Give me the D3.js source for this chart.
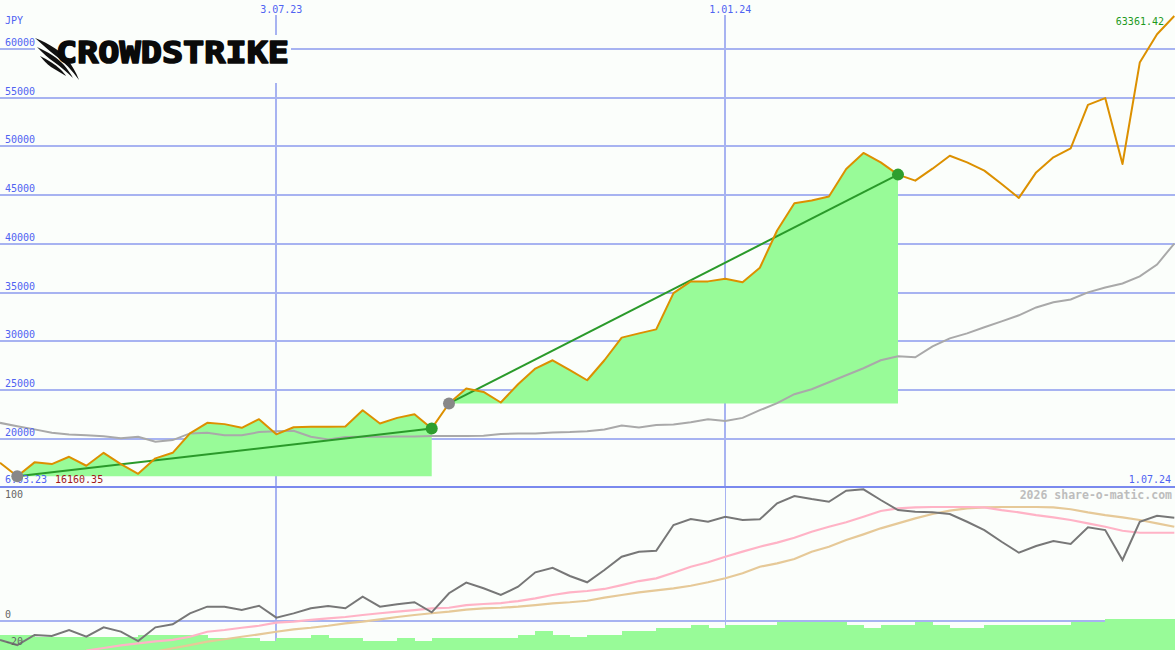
<!DOCTYPE html>
<html><head><meta charset="utf-8">
<script src="https://cdn.jsdelivr.net/npm/d3@7"></script>
<style>
html,body{margin:0;padding:0;background:#fbfefb;}
svg{display:block;}
text{font-family:"DejaVu Sans Mono","Liberation Mono",monospace;}
</style></head>
<body>
<svg id="chart" width="1175" height="650"></svg>
<script>
// ---------- DATA ----------
const dates = ["2023-03-13","2023-03-20","2023-03-27","2023-04-03","2023-04-10","2023-04-17","2023-04-24","2023-05-01","2023-05-08","2023-05-15","2023-05-22","2023-05-29","2023-06-05","2023-06-12","2023-06-19","2023-06-26","2023-07-03","2023-07-10","2023-07-17","2023-07-24","2023-07-31","2023-08-07","2023-08-14","2023-08-21","2023-08-28","2023-09-04","2023-09-11","2023-09-18","2023-09-25","2023-10-02","2023-10-09","2023-10-16","2023-10-23","2023-10-30","2023-11-06","2023-11-13","2023-11-20","2023-11-27","2023-12-04","2023-12-11","2023-12-18","2023-12-25","2024-01-01","2024-01-08","2024-01-15","2024-01-22","2024-01-29","2024-02-05","2024-02-12","2024-02-19","2024-02-26","2024-03-04","2024-03-11","2024-03-18","2024-03-25","2024-04-01","2024-04-08","2024-04-15","2024-04-22","2024-04-29","2024-05-06","2024-05-13","2024-05-20","2024-05-27","2024-06-03","2024-06-10","2024-06-17","2024-06-24","2024-07-01"];

const price = [17540,16160.35,17580,17400,18150,17230,18560,17400,16410,17990,18560,20550,21630,21500,21120,22010,20450,21180,21230,21240,21260,22930,21570,22140,22520,21060,23620,25150,24800,23720,25590,27200,28050,27030,26000,28050,30370,30810,31220,34940,36140,36140,36410,36060,37540,41360,44150,44430,44840,47670,49310,48350,47090,46470,47700,49030,48350,47500,46130,44700,47320,48860,49780,54250,54940,48180,58580,61490,63361.42];

const movingAvg = [21630,21290,20960,20610,20440,20350,20250,20040,20200,19690,19860,20550,20610,20370,20370,20680,20780,20810,20200,19930,20170,20200,20200,20220,20240,20270,20270,20270,20320,20480,20550,20550,20630,20680,20780,20940,21350,21160,21400,21450,21700,22010,21810,22140,22930,23650,24570,25080,25800,26510,27230,28050,28460,28360,29480,30300,30810,31430,32040,32660,33470,33990,34290,35010,35520,35930,36650,37870,40020];

const oscillator = [-14.0,-17.8,-10.3,-11.1,-6.6,-11.6,-4.6,-7.8,-14.8,-4.6,-2.3,5.8,10.8,10.8,8.3,11.5,2.6,5.8,9.6,11.3,9.6,18.2,10.8,12.6,14.1,6.6,20.8,28.7,24.5,19.5,25.7,36.4,39.8,33.7,29.0,38.1,48.0,51.8,52.5,71.7,76.1,74.1,77.8,75.4,75.9,87.8,93.3,91.0,89.0,97.2,98.3,90.3,82.8,81.6,81.1,79.9,74.1,67.9,59.2,51.0,56.0,59.7,57.5,69.9,67.9,45.6,74.1,78.6,77.1];

const oscFast = [null,null,null,null,null,-22.0,-20.0,-18.0,-16.5,-15.0,-14.0,-11.6,-7.9,-6.6,-4.9,-3.4,-1.1,-0.4,0.9,2.1,3.1,4.6,5.9,7.1,8.3,9.6,10.0,12.0,12.8,13.5,15.0,17.0,19.5,21.5,22.5,24.0,26.9,29.9,31.9,36.1,40.6,43.9,48.0,51.8,55.5,58.5,62.2,66.7,70.4,73.7,77.8,82.1,84.1,84.8,85.1,85.1,85.1,84.8,82.8,81.1,79.1,77.4,75.4,72.9,70.4,67.4,65.9,65.9,65.9];

const oscSlow = [null,null,null,null,null,null,null,null,null,-22.7,-20.2,-17.8,-15.3,-13.5,-11.6,-9.8,-7.9,-6.1,-4.9,-3.4,-1.6,-0.4,1.4,3.1,4.6,5.9,7.1,8.6,9.6,10.0,10.8,12.0,13.3,14.1,15.2,17.5,19.5,21.5,23.0,24.5,26.4,29.0,32.0,35.7,40.6,43.1,46.3,51.8,55.5,60.5,64.7,69.2,72.9,76.6,79.9,82.4,84.1,84.8,85.1,85.1,85.1,84.8,83.4,81.1,79.1,77.4,75.4,72.9,70.4];

const strengthBars = [-10.3,-10.3,-11.6,-11.6,-11.6,-11.6,-11.6,-11.6,-10.3,-10.3,-10.3,-10.3,-12.8,-12.8,-12.8,-14.8,-12.8,-12.8,-10.3,-12.8,-12.8,-14.8,-14.8,-12.8,-14.8,-12.8,-12.8,-12.8,-12.8,-12.8,-10.3,-7.3,-10.3,-12.1,-10.3,-10.3,-7.3,-7.3,-5.1,-5.1,-2.9,-5.1,-2.9,-2.9,-2.9,-0.6,-0.6,-0.6,-0.6,-2.9,-5.1,-2.9,-2.9,-0.6,-2.9,-5.1,-5.1,-2.9,-2.9,-2.9,-2.9,-2.9,-0.6,-0.6,1.6,1.6,1.6,1.6,1.6];

const trendSegments = [{start:1, end:25}, {start:26, end:52}];

const priceTicks = [20000,25000,30000,35000,40000,45000,50000,55000,60000];
const oscTicks = [100, 0, -20];
const dateTicks = ["2023-07-03","2024-01-01"];
const dateTickLabels = ["3.07.23","1.01.24"];
const endDateLabel = "1.07.24";
const lowLabelDate = "6.03.23";
const lowLabelValue = "16160.35";
const lastLabel = "63361.42";
const currency = "JPY";
const watermark = "2026 share-o-matic.com";

// ---------- SETUP ----------
const W = 1175, H = 650;
const BG = "#fbfefb";
const parse = d3.utcParse("%Y-%m-%d");
const dts = dates.map(parse);
const svg = d3.select("#chart");
svg.append("rect").attr("width",W).attr("height",H).attr("fill",BG);

const x = d3.scaleUtc().domain([dts[0], dts[dts.length-1]]).range([0, 1174.3]);
const y = d3.scaleLinear().domain([15000, 65000]).range([487.5, 0]);
const yo = d3.scaleLinear().domain([-20, 100]).range([648, 487]);
const panelTop = 487;

const grid = svg.append("g").attr("shape-rendering","crispEdges");
grid.selectAll("line.h").data(priceTicks).join("line")
  .attr("x1",0).attr("x2",W).attr("y1",d=>y(d)).attr("y2",d=>y(d))
  .attr("stroke","#a7b3f1").attr("stroke-width",2);
grid.selectAll("line.v").data(dateTicks).join("line")
  .attr("x1",d=>x(parse(d))).attr("x2",d=>x(parse(d)))
  .attr("y1",15).attr("y2",panelTop)
  .attr("stroke","#a7b3f1").attr("stroke-width",2);
grid.selectAll("line.v2").data(dateTicks).join("line")
  .attr("x1",d=>x(parse(d))).attr("x2",d=>x(parse(d)))
  .attr("y1",panelTop).attr("y2",H)
  .attr("stroke","#a7b3f1").attr("stroke-width",(d,i)=>i===0?2:1);
grid.append("line").attr("x1",0).attr("x2",W).attr("y1",yo(0)).attr("y2",yo(0))
  .attr("stroke","#a7b3f1").attr("stroke-width",2);

// ---------- TREND FILLS ----------
trendSegments.forEach(s=>{
  const base = price[s.start];
  const idx = d3.range(s.start, s.end+1);
  const area = d3.area().x(i=>x(dts[i])).y0(y(base)).y1(i=>y(price[i]));
  svg.append("path").attr("d",area(idx)).attr("fill","#98fb98");
});

const lineMain = d3.line().x((d,i)=>x(dts[i])).y(d=>y(d));
svg.append("path").attr("d",lineMain(movingAvg)).attr("fill","none")
  .attr("stroke","#a9a9a9").attr("stroke-width",2);

trendSegments.forEach(s=>{
  svg.append("line")
    .attr("x1",x(dts[s.start])).attr("y1",y(price[s.start]))
    .attr("x2",x(dts[s.end])).attr("y2",y(price[s.end]))
    .attr("stroke","#2a9a2a").attr("stroke-width",2);
});

svg.append("path").attr("d",lineMain(price)).attr("fill","none")
  .attr("stroke","#dc9000").attr("stroke-width",2).attr("stroke-linejoin","round");

// ---------- LOWER PANEL ----------
const bw = x(dts[1]) - x(dts[0]);
svg.append("g").attr("shape-rendering","crispEdges")
  .selectAll("rect").data(strengthBars).join("rect")
  .attr("x",(d,i)=>x(dts[i])).attr("width",bw+0.6)
  .attr("y",d=>yo(d)).attr("height",d=>H - yo(d))
  .attr("fill","#98fb98");

const lineOsc = d3.line().defined(d=>d!=null).x((d,i)=>x(dts[i])).y(d=>yo(d));
svg.append("path").attr("d",lineOsc(oscSlow)).attr("fill","none").attr("stroke","#e6c998").attr("stroke-width",2.2);
svg.append("path").attr("d",lineOsc(oscFast)).attr("fill","none").attr("stroke","#ffb3c6").attr("stroke-width",2.2);
svg.append("path").attr("d",lineOsc(oscillator)).attr("fill","none").attr("stroke","#777777").attr("stroke-width",2);

svg.append("line").attr("x1",0).attr("x2",W).attr("y1",panelTop).attr("y2",panelTop)
  .attr("stroke","#7a89ee").attr("stroke-width",2).attr("shape-rendering","crispEdges");

// ---------- LABELS ----------
const blue = "#4f63f2";
svg.selectAll("text.pt").data(priceTicks).join("text")
  .attr("x",5).attr("y",d=>y(d)-3).attr("font-size",10).attr("fill",blue).text(d=>d);
svg.append("text").attr("x",5).attr("y",24).attr("font-size",10).attr("fill",blue).text(currency);
svg.selectAll("text.dt").data(dateTicks).join("text")
  .attr("x",d=>x(parse(d))+5).attr("y",13).attr("text-anchor","middle")
  .attr("font-size",10).attr("fill",blue).text((d,i)=>dateTickLabels[i]);
svg.append("text").attr("x",1171).attr("y",483).attr("text-anchor","end")
  .attr("font-size",10).attr("fill",blue).text(endDateLabel);
svg.append("text").attr("x",1164).attr("y",25).attr("text-anchor","end")
  .attr("font-size",10).attr("fill","#1e9a1e").text(lastLabel);
svg.append("text").attr("x",1172).attr("y",499).attr("text-anchor","end")
  .attr("font-size",11.5).attr("font-weight","bold").attr("fill","#bdbdbd").text(watermark);

svg.selectAll("text.ot").data(oscTicks).join("text")
  .attr("x",5).attr("y",d=>Math.max(yo(d)-3, panelTop+11))
  .attr("font-size",10).attr("fill","#666").text(d=>d);

svg.append("text").attr("x",5).attr("y",483).attr("font-size",10).attr("fill",blue).text(lowLabelDate);
svg.append("text").attr("x",55).attr("y",483).attr("font-size",10).attr("fill","#a01818").text(lowLabelValue);

// dots on top
trendSegments.forEach(s=>{
  svg.append("circle").attr("cx",x(dts[s.start])).attr("cy",y(price[s.start])).attr("r",6).attr("fill","#888888");
  svg.append("circle").attr("cx",x(dts[s.end])).attr("cy",y(price[s.end])).attr("r",6).attr("fill","#2e9e2e");
});

// ---------- LOGO ----------
const logo = svg.append("g");
logo.append("rect").attr("x",35).attr("y",35).attr("width",256).attr("height",48).attr("fill",BG);
const claws = [
  "M35,38 C50,44 62,52 68,60 C72,66 76,72 79,80 C72,70 64,62 56,56 C48,50 42,44 35,38 Z",
  "M37,47 C48,52 58,58 64,65 C68,70 71,74 73,78 C67,72 61,67 54,62 C48,58 42,52 37,47 Z",
  "M40,56 C48,60 55,64 60,69 C63,72 65,74 66,76 C61,73 56,70 51,67 C46,63 43,60 40,56 Z"
];
logo.selectAll("path").data(claws).join("path").attr("d",d=>d).attr("fill","#111");
logo.append("text").attr("x",56).attr("y",62.5)
  .attr("font-family","Lato, 'Open Sans', sans-serif").attr("font-weight",900)
  .attr("font-size",30).attr("fill","#0a0a0a")
  .attr("stroke","#0a0a0a").attr("stroke-width",1.6).attr("stroke-linejoin","round")
  .attr("textLength",233).attr("lengthAdjust","spacingAndGlyphs").text("CROWDSTRIKE");
</script>
</body></html>
